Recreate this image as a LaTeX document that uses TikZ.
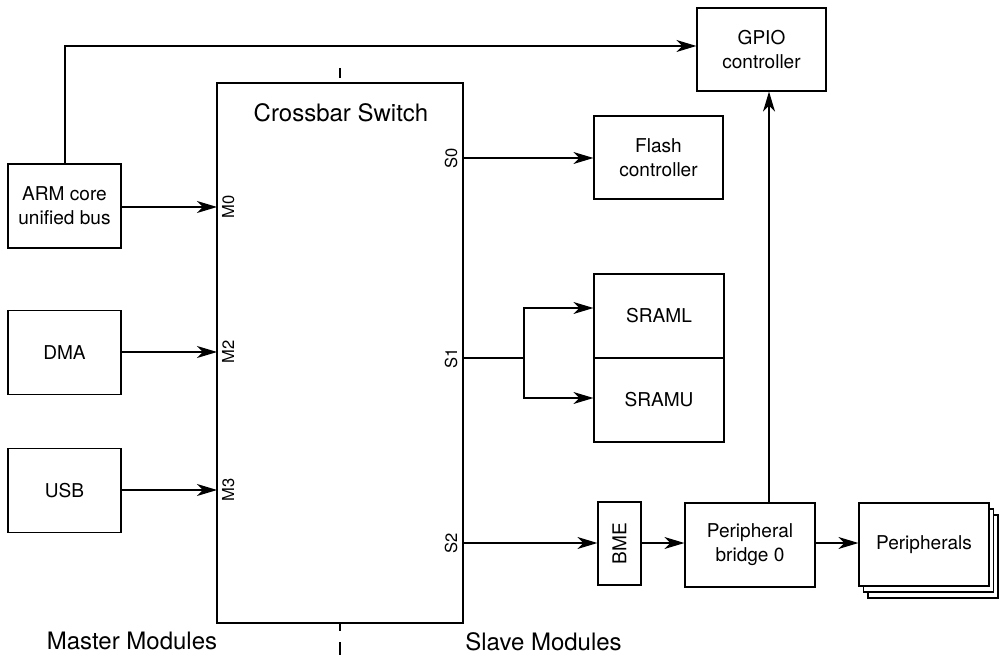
\documentclass[tikz,border=0pt]{standalone}
\usepackage{fontspec}
\setmainfont{TeX Gyre Heros}
\usetikzlibrary{arrows.meta}
\begin{document}
\begin{tikzpicture}[x=0.75pt,y=-0.75pt,
  line width=0.9pt,
  box/.style={draw,fill=white,inner sep=0pt,align=center,
    font=\fontsize{14.3pt}{18pt}\selectfont},
  port/.style={rotate=90,anchor=base,inner sep=0pt,font=\fontsize{12.4pt}{14pt}\selectfont},
  big/.style={inner sep=0pt,anchor=base,font=\fontsize{18pt}{21pt}\selectfont},
  arr/.style={-{Stealth[length=15pt,width=9pt,inset=4.5pt]}}]
\useasboundingbox (0,0) rectangle (1002,655);

% dashed centre line
\draw (340,68) -- (340,78);
\draw (340,623) -- (340,631);
\draw (340,642) -- (340,655);

% crossbar
\node[draw,fill=white,inner sep=0pt,minimum width=246*0.75pt,minimum height=540*0.75pt] (xbar) at (340,353) {};
\node[big] (xt) at (341,122) {Crossbar Switch};

% ports
\node[port] (m0) at (234,207) {M0};
\node[port] (m2) at (234,352) {M2};
\node[port] (m3) at (234,490) {M3};
\node[port] (s0) at (457,158) {S0};
\node[port] (s1) at (457,358) {S1};
\node[port] (s2) at (457,543) {S2};
\coordinate (pm0) at (217,207);
\coordinate (pm2) at (217,352);
\coordinate (pm3) at (217,490);
\coordinate (ps0) at (463,158);
\coordinate (ps1) at (463,358);
\coordinate (ps2) at (463,543);

% masters
\node[box,minimum width=113*0.75pt,minimum height=84*0.75pt] (arm) at (64.5,206) {ARM core\\unified bus};
\node[box,minimum width=113*0.75pt,minimum height=84*0.75pt] (dma) at (64.5,352.5) {DMA};
\node[box,minimum width=113*0.75pt,minimum height=84*0.75pt] (usb) at (64.5,490.5) {USB};

% slaves
\node[box,minimum width=129*0.75pt,minimum height=83*0.75pt] (gpio) at (761.5,49.5) {GPIO\\controller};
\node[box,minimum width=129*0.75pt,minimum height=83*0.75pt] (flash) at (658.5,157.5) {Flash\\controller};
\node[box,minimum width=130*0.75pt,minimum height=84*0.75pt] (sraml) at (659,316) {SRAML};
\node[box,minimum width=130*0.75pt,minimum height=84*0.75pt] (sramu) at (659,400) {SRAMU};
\node[box,minimum width=43*0.75pt,minimum height=83*0.75pt] (bme) at (619.5,543.5) {\rotatebox{90}{BME}};
\node[box,minimum width=130*0.75pt,minimum height=84*0.75pt] (pb) at (750,545) {Peripheral\\bridge 0};
\node[box,minimum width=130*0.75pt,minimum height=83*0.75pt] (per3) at (933,556.5) {};
\node[box,minimum width=130*0.75pt,minimum height=83*0.75pt] (per2) at (928.5,550.5) {};
\node[box,minimum width=130*0.75pt,minimum height=83*0.75pt] (per) at (924,544.5) {Peripherals};

% labels
\node[big] (master) at (132,649) {Master Modules};
\node[big] (slave) at (543.5,650) {Slave Modules};

% connectors
\draw[arr] (arm.east |- pm0) -- (pm0);
\draw[arr] (dma.east |- pm2) -- (pm2);
\draw[arr] (usb.east |- pm3) -- (pm3);
\draw[arr] (ps0) -- (flash.west |- ps0);
\coordinate (br) at (524,358);
\draw (ps1) -- (br);
\draw[arr] (br) |- (sraml.west |- 0,308);
\draw[arr] (br) |- (sramu.west |- 0,398);
\draw[arr] (ps2) -- (bme.west |- ps2);
\draw[arr] (bme.east |- ps2) -- (pb.west |- ps2);
\draw[arr] (pb.east |- ps2) -- (per.west |- ps2);
\draw[arr] (pb.north -| 769,0) -- (gpio.south -| 769,0);
\draw[arr] (arm.north -| 65,0) |- (gpio.west |- 0,46);
\end{tikzpicture}
\end{document}
